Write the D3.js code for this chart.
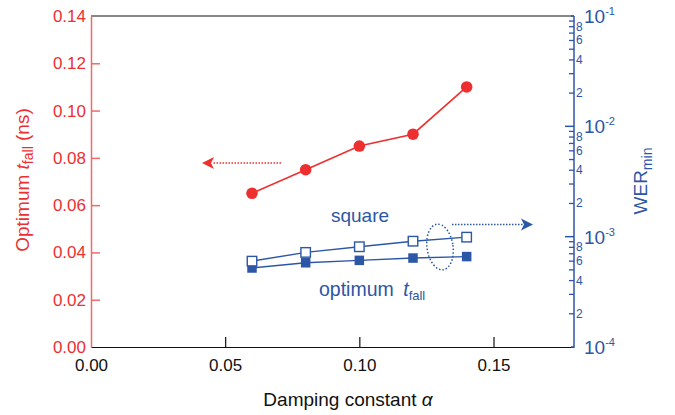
<!DOCTYPE html>
<html><head><meta charset="utf-8">
<script src="https://cdn.jsdelivr.net/npm/d3@7"></script>
<style>body{margin:0;background:#fff}svg{display:block;font-family:"Liberation Sans",Arial,sans-serif}</style>
</head><body>
<svg id="c" width="675" height="415"></svg>
<script>
const alpha = [0.06, 0.08, 0.10, 0.12, 0.14];
const tFall = [0.065, 0.075, 0.085, 0.090, 0.110];
const werSquare = [6.0e-4, 7.2e-4, 8.1e-4, 9.1e-4, 9.9e-4];
const werOptimum = [5.2e-4, 5.8e-4, 6.1e-4, 6.4e-4, 6.6e-4];
const xTicks = [0, 0.05, 0.10, 0.15];
const yLeftTicks = [0, 0.02, 0.04, 0.06, 0.08, 0.10, 0.12, 0.14];
const decades = [-4, -3, -2, -1];
const minorLabels = [2, 4, 6, 8];

const RED = "#ee2f2f", RED_AX = "#f06a6a", BLUE = "#2c56a6";
const L = 91, R = 574, T = 16, B = 347;
const svg = d3.select("#c");
const x = d3.scaleLinear().domain([0, 0.18]).range([L, R]);
const yL = d3.scaleLinear().domain([0, 0.14]).range([B, T]);
const yR = d3.scaleLog().domain([1e-4, 1e-1]).range([B, T]);

// frame top
svg.append("line").attr("x1", L).attr("x2", R).attr("y1", T).attr("y2", T).attr("stroke", "#111").attr("stroke-width", 1.2);
// bottom axis
const xa = svg.append("g").attr("transform", `translate(0,${B})`)
  .call(d3.axisBottom(x).tickValues(xTicks).tickFormat(d3.format(".2f")).tickSizeInner(-10).tickSizeOuter(0).tickPadding(12));
xa.select(".domain").attr("stroke", "#111").attr("stroke-width", 1.2);
xa.selectAll(".tick line").attr("stroke", "#111").attr("stroke-width", 1.2);
xa.selectAll(".tick text").attr("font-size", 17).attr("fill", "#111").attr("font-family", "Liberation Sans, Arial, sans-serif");
xa.selectAll(".tick").filter(d => d === 0).select("line").remove();

// left axis
const ya = svg.append("g").attr("transform", `translate(${L},0)`)
  .call(d3.axisLeft(yL).tickValues(yLeftTicks).tickFormat(d3.format(".2f")).tickSizeInner(-9).tickSizeOuter(0).tickPadding(5));
ya.select(".domain").attr("stroke", RED_AX).attr("stroke-width", 1.5);
ya.selectAll(".tick line").attr("stroke", RED_AX).attr("stroke-width", 1.5);
ya.selectAll(".tick").filter(d => d === 0 || d === 0.14).select("line").remove();
ya.selectAll(".tick text").attr("font-size", 17).attr("fill", RED).attr("font-family", "Liberation Sans, Arial, sans-serif");

// right axis (log)
const minorVals = [];
decades.slice(0, 3).forEach(e => { for (let m = 2; m <= 9; m++) minorVals.push(m * Math.pow(10, e)); });
const ra = svg.append("g");
ra.append("line").attr("x1", R).attr("x2", R).attr("y1", T).attr("y2", B).attr("stroke", BLUE).attr("stroke-width", 1.5);
decades.forEach(e => {
  const v = Math.pow(10, e), yy = yR(v);
  if (e !== -4 && e !== -1) ra.append("line").attr("x1", R - 9).attr("x2", R).attr("y1", yy).attr("y2", yy).attr("stroke", BLUE).attr("stroke-width", 1.5);
  else ra.append("line").attr("x1", R - 3).attr("x2", R).attr("y1", yy).attr("y2", yy).attr("stroke", BLUE).attr("stroke-width", 1.5);
  const t = ra.append("text").attr("x", R + 10).attr("y", yy + 7).attr("fill", BLUE).attr("font-size", 19);
  t.append("tspan").text("10");
  t.append("tspan").attr("dy", -8).attr("font-size", 11).text(String(e));
});
minorVals.forEach(v => {
  const yy = yR(v);
  ra.append("line").attr("x1", R - 5).attr("x2", R).attr("y1", yy).attr("y2", yy).attr("stroke", BLUE).attr("stroke-width", 1.3);
});
decades.slice(0, 3).forEach(e => {
  minorLabels.forEach(m => {
    ra.append("text").attr("x", R + 2).attr("y", yR(m * Math.pow(10, e)) + 4).attr("fill", BLUE).attr("font-size", 12).text(m);
  });
});

// axis titles
const lt = svg.append("text").attr("transform", "translate(29,180) rotate(-90)").attr("text-anchor", "middle").attr("fill", RED).attr("font-size", 19);
lt.append("tspan").text("Optimum ");
lt.append("tspan").attr("font-style", "italic").text("t");
lt.append("tspan").attr("font-size", 14).attr("dy", 4).text("fall");
lt.append("tspan").attr("dy", -4).text(" (ns)");

const rt = svg.append("text").attr("transform", "translate(647,181) rotate(-90)").attr("text-anchor", "middle").attr("fill", BLUE).attr("font-size", 19);
rt.append("tspan").text("WER");
rt.append("tspan").attr("font-size", 14).attr("dy", 5).text("min");

const xt = svg.append("text").attr("x", 348).attr("y", 406).attr("text-anchor", "middle").attr("fill", "#111").attr("font-size", 19);
xt.append("tspan").text("Damping constant ");
xt.append("tspan").attr("font-style", "italic").text("α");

// series
const idx = d3.range(alpha.length);
const lineL = d3.line().x(i => x(alpha[i])).y(i => yL(tFall[i]));
svg.append("path").attr("d", lineL(idx)).attr("fill", "none").attr("stroke", RED).attr("stroke-width", 1.6);
svg.selectAll(".rp").data(idx).join("circle").attr("cx", i => x(alpha[i])).attr("cy", i => yL(tFall[i])).attr("r", 5.8).attr("fill", RED);

const lineS = d3.line().x(i => x(alpha[i])).y(i => yR(werSquare[i]));
const lineO = d3.line().x(i => x(alpha[i])).y(i => yR(werOptimum[i]));
svg.append("path").attr("d", lineS(idx)).attr("fill", "none").attr("stroke", BLUE).attr("stroke-width", 1.4);
svg.append("path").attr("d", lineO(idx)).attr("fill", "none").attr("stroke", BLUE).attr("stroke-width", 1.4);
const S = 9.5;
svg.selectAll(".os").data(idx).join("rect").attr("x", i => x(alpha[i]) - S / 2).attr("y", i => yR(werOptimum[i]) - S / 2)
  .attr("width", S).attr("height", S).attr("fill", BLUE);
svg.selectAll(".ss").data(idx).join("rect").attr("x", i => x(alpha[i]) - S / 2).attr("y", i => yR(werSquare[i]) - S / 2)
  .attr("width", S).attr("height", S).attr("fill", "#fff").attr("stroke", BLUE).attr("stroke-width", 1.4);

// annotations
svg.append("line").attr("x1", 281).attr("x2", 212).attr("y1", 163).attr("y2", 163).attr("stroke", RED).attr("stroke-width", 1.5).attr("stroke-dasharray", "1.5,1.5");
svg.append("path").attr("d", "M202,163 L214,157 L211,163 L214,169 Z").attr("fill", RED);
svg.append("line").attr("x1", 452).attr("x2", 523).attr("y1", 224.5).attr("y2", 224.5).attr("stroke", BLUE).attr("stroke-width", 1.5).attr("stroke-dasharray", "1.5,1.5");
svg.append("path").attr("d", "M533,224.5 L521,218.5 L524,224.5 L521,230.5 Z").attr("fill", BLUE);
svg.append("ellipse").attr("cx", 440).attr("cy", 247).attr("rx", 13).attr("ry", 23).attr("transform", "rotate(-8,440,247)")
  .attr("fill", "none").attr("stroke", BLUE).attr("stroke-width", 1.5).attr("stroke-dasharray", "1.5,2");

svg.append("text").attr("x", 360).attr("y", 222).attr("text-anchor", "middle").attr("fill", BLUE).attr("font-size", 19).text("square");
const ot = svg.append("text").attr("x", 319).attr("y", 296).attr("fill", BLUE).attr("font-size", 19.5);
ot.append("tspan").text("optimum ");
ot.append("tspan").attr("font-style", "italic").attr("dx", 4).text("t");
ot.append("tspan").attr("font-size", 13).attr("dy", 4).text("fall");
</script>
</body></html>
